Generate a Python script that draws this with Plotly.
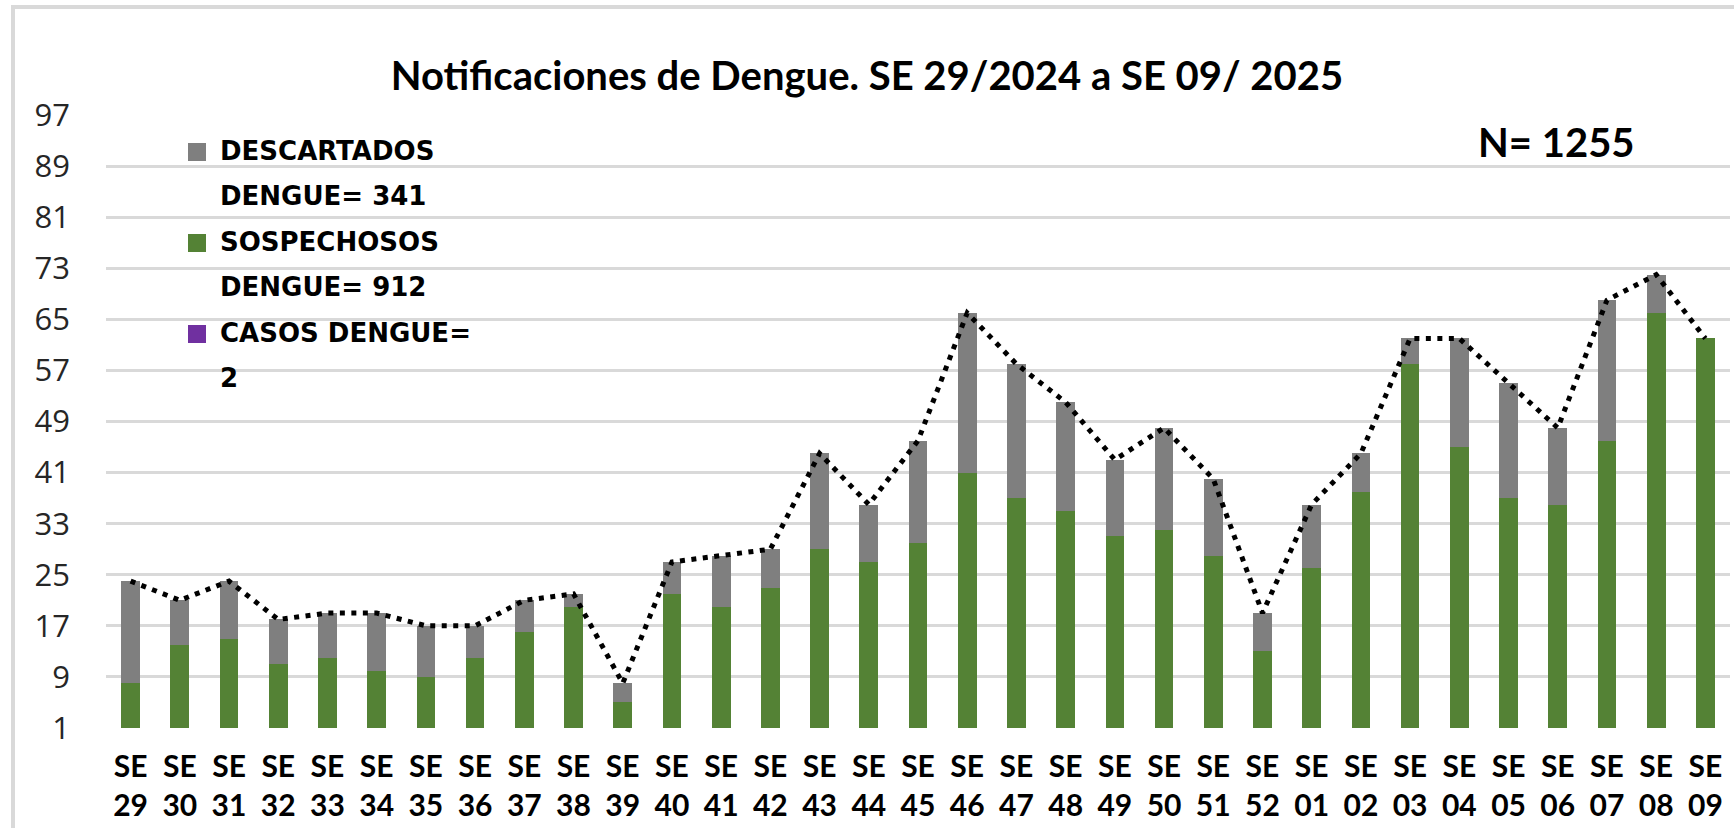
import plotly.graph_objects as go

# ---------------- data ----------------
semanas = ["SE<br>29", "SE<br>30", "SE<br>31", "SE<br>32", "SE<br>33", "SE<br>34",
           "SE<br>35", "SE<br>36", "SE<br>37", "SE<br>38", "SE<br>39", "SE<br>40",
           "SE<br>41", "SE<br>42", "SE<br>43", "SE<br>44", "SE<br>45", "SE<br>46",
           "SE<br>47", "SE<br>48", "SE<br>49", "SE<br>50", "SE<br>51", "SE<br>52",
           "SE<br>01", "SE<br>02", "SE<br>03", "SE<br>04", "SE<br>05", "SE<br>06",
           "SE<br>07", "SE<br>08", "SE<br>09"]

sospechosos = [8, 14, 15, 11, 12, 10, 9, 12, 16, 20, 5, 22, 20, 23, 29, 27, 30, 41,
               37, 35, 31, 32, 28, 13, 26, 38, 58, 45, 37, 36, 46, 66, 62]

descartados = [16, 7, 9, 7, 7, 9, 8, 5, 5, 2, 3, 5, 8, 6, 15, 9, 16, 25,
               21, 17, 12, 16, 12, 6, 10, 6, 4, 17, 18, 12, 22, 6, 0]

casos = [0] * 33

total = [a + b + c for a, b, c in zip(sospechosos, descartados, casos)]

y_ticks = [1, 9, 17, 25, 33, 41, 49, 57, 65, 73, 81, 89, 97]

legend_items = [
    ("DESCARTADOS", "DENGUE= 341", "#7f7f7f"),
    ("SOSPECHOSOS", "DENGUE= 912", "#548235"),
    ("CASOS DENGUE=", "2", "#7030a0"),
]

titulo = "Notificaciones de Dengue. SE 29/2024 a SE 09/ 2025"
n_label = "N= 1255"

# ---------------- layout geometry ----------------
W, H = 1734, 828
ML, MR, MT, MB = 106, 4, 115, 100
PW, PH = W - ML - MR, H - MT - MB


def px_x(px):
    return (px - ML) / PW


def px_y(py):
    return (H - MB - py) / PH


GREEN = "#548235"
GRAY = "#7f7f7f"
PURPLE = "#7030a0"

fig = go.Figure()
fig.add_trace(go.Bar(x=semanas, y=sospechosos, name="SOSPECHOSOS DENGUE= 912",
                     marker=dict(color=GREEN, line=dict(width=0)), showlegend=False))
fig.add_trace(go.Bar(x=semanas, y=casos, name="CASOS DENGUE= 2",
                     marker=dict(color=PURPLE, line=dict(width=0)), showlegend=False))
fig.add_trace(go.Bar(x=semanas, y=descartados, name="DESCARTADOS DENGUE= 341",
                     marker=dict(color=GRAY, line=dict(width=0)), showlegend=False))
fig.add_trace(go.Scatter(x=semanas, y=total, mode="lines", name="Total",
                         line=dict(color="black", width=5, dash="5px,6.5px"),
                         showlegend=False))

shapes = []
annotations = []

# chart frame (left and top edges visible in the picture)
shapes.append(dict(type="line", xref="paper", yref="paper",
                   x0=px_x(13), x1=px_x(13), y0=px_y(H + 10), y1=px_y(5),
                   line=dict(color="#d9d9d9", width=4)))
shapes.append(dict(type="line", xref="paper", yref="paper",
                   x0=px_x(11), x1=px_x(W + 10), y0=px_y(7), y1=px_y(7),
                   line=dict(color="#d9d9d9", width=4)))

# manual legend
leg_font = dict(family="DejaVu Sans", size=26, color="black")
for i, (l1, l2, col) in enumerate(legend_items):
    cy = 152 + i * 91
    shapes.append(dict(type="rect", xref="paper", yref="paper",
                       x0=px_x(188), x1=px_x(206), y0=px_y(cy + 9), y1=px_y(cy - 9),
                       line=dict(width=0), fillcolor=col))
    annotations.append(dict(text="<b>%s</b>" % l1, xref="paper", yref="paper",
                            x=px_x(218), y=px_y(cy - 1), xanchor="left", yanchor="middle",
                            showarrow=False, font=leg_font))
    annotations.append(dict(text="<b>%s</b>" % l2, xref="paper", yref="paper",
                            x=px_x(218), y=px_y(cy + 44), xanchor="left", yanchor="middle",
                            showarrow=False, font=leg_font))

annotations.append(dict(text="<b>%s</b>" % n_label, xref="paper", yref="paper",
                        x=px_x(1556), y=px_y(142), xanchor="center", yanchor="middle",
                        showarrow=False,
                        font=dict(family="Lato", size=40, color="black")))

fig.update_layout(
    width=W, height=H, autosize=False,
    margin=dict(l=ML, r=MR, t=MT, b=MB),
    paper_bgcolor="white", plot_bgcolor="white",
    barmode="stack", bargap=0.62,
    title=dict(text="<b>%s</b>" % titulo, x=0.5, xanchor="center",
               xref="container", yref="container", y=1 - 76 / H, yanchor="middle",
               font=dict(family="Lato", size=40, color="black")),
    xaxis=dict(type="category", showgrid=False, zeroline=False, showline=False,
               ticks="", ticklabelstandoff=18,
               tickfont=dict(family="Lato", size=30, color="black", weight="bold")),
    yaxis=dict(range=[1, 97], tickmode="array", tickvals=y_ticks,
               showgrid=True, gridcolor="#d9d9d9", gridwidth=2.5,
               zeroline=False, showline=False, ticks="", ticklabelstandoff=35,
               tickfont=dict(family="Open Sans", size=31, color="#262626")),
    shapes=shapes, annotations=annotations,
    showlegend=False,
)

fig.write_html("out.html", config={"displayModeBar": False},
               post_script="document.body.style.margin='0';")
